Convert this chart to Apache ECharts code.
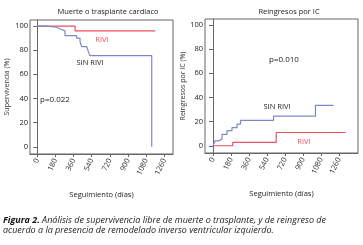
<!DOCTYPE html>
<html>
<head>
<meta charset="utf-8">
<script src="https://cdn.jsdelivr.net/npm/echarts@6/dist/echarts.min.js"></script>
<style>
  html, body { margin: 0; padding: 0; background: #fff; }
  #chart { width: 363px; height: 245px; }
</style>
</head>
<body>
<div id="chart"></div>
<script>
// tick values shared by both panels
var xTicks = [0, 180, 360, 540, 720, 900, 1080, 1260];
var yTicks = [0, 20, 40, 60, 80, 100];

// Panel 1: Muerte o trasplante cardiaco (survival, %)
var survRivi = [[0, 100], [375, 96], [1170, 96]];
var survSinRivi = [[0, 100], [90, 99], [190, 97.5], [230, 96], [275, 92], [390, 90],
  [424, 87], [440, 83], [490, 82], [506, 79], [522, 75.5], [1135, 0]];

// Panel 2: Reingresos por IC (cumulative, %)
var readmRivi = [[0, 0], [197, 2.8], [632, 11], [1328, 11]];
var readmSinRivi = [[0, 0], [20, 4], [55, 5.5], [90, 9.5], [140, 12.5], [190, 15],
  [240, 18], [275, 21], [605, 24.5], [1025, 33.5], [1205, 33.5]];

var FONT = 'Open Sans';
var BLUE = '#7f87c9';
var RED = '#e8535b';

var chart = echarts.init(document.getElementById('chart'));

function xAx(idx, min, max) {
  return {
    type: 'value', gridIndex: idx, min: min, max: max,
    name: 'Seguimiento (días)', nameLocation: 'middle', nameGap: 37,
    nameTextStyle: { fontFamily: FONT, fontSize: 7.5, color: '#222' },
    splitLine: { show: false },
    axisLine: { onZero: false, lineStyle: { color: '#666' } },
    axisTick: { length: 3, customValues: xTicks, lineStyle: { color: '#666' } },
    axisLabel: {
      customValues: xTicks, rotate: 65, margin: 5, fontFamily: FONT, fontSize: 7.5, color: '#333',
      formatter: function (v) { return String(v); }
    }
  };
}
function yAx(idx, name, gap) {
  return {
    type: 'value', gridIndex: idx, min: -6, max: 105,
    name: name, nameLocation: 'middle', nameGap: gap,
    nameTextStyle: { fontFamily: FONT, fontSize: 7, color: '#333' },
    splitLine: { show: false },
    axisLine: { lineStyle: { color: '#666' } },
    axisTick: { length: 4, customValues: yTicks, lineStyle: { color: '#666' } },
    axisLabel: { customValues: yTicks, margin: 2, fontFamily: FONT, fontSize: 7.5, color: '#222' }
  };
}
function line(idx, data, color) {
  return {
    type: 'line', xAxisIndex: idx, yAxisIndex: idx, data: data, step: 'end',
    symbol: 'none', lineStyle: { color: color, width: 1.2 }, animation: false
  };
}
function txt(x, y, s, color, size) {
  return {
    type: 'text', x: x, y: y,
    style: { text: s, fill: color || '#222', fontFamily: FONT, fontSize: size || 7.5, align: 'center', verticalAlign: 'middle' }
  };
}

var option = {
  animation: false,
  title: [
    { text: 'Muerte o trasplante cardiaco', left: 103, top: 3, textAlign: 'center',
      textStyle: { fontFamily: FONT, fontSize: 7.5, fontWeight: 'normal', color: '#222' } },
    { text: 'Reingresos por IC', left: 284, top: 3, textAlign: 'center',
      textStyle: { fontFamily: FONT, fontSize: 7.5, fontWeight: 'normal', color: '#222' } }
  ],
  grid: [
    { left: 30, top: 20, width: 143, height: 134, show: true, borderColor: '#666', borderWidth: 1 },
    { left: 205, top: 19, width: 153, height: 134, show: true, borderColor: '#666', borderWidth: 1 }
  ],
  xAxis: [xAx(0, -72, 1346), xAx(1, -80, 1450)],
  yAxis: [yAx(0, 'Supervivencia (%)', 20), yAx(1, 'Reingresos por IC (%)', 17)],
  series: [
    line(0, survRivi, RED),
    line(0, survSinRivi, BLUE),
    line(1, readmRivi, RED),
    line(1, readmSinRivi, BLUE)
  ],
  graphic: [
    txt(102, 40, 'RIVI', RED),
    txt(90, 63, 'SIN RIVI'),
    txt(55, 100, 'p=0.022', null, 8),
    txt(284, 60, 'p=0.010', null, 8),
    txt(277, 107, 'SIN RIVI'),
    txt(304, 142, 'RIVI', RED),
    {
      type: 'text', x: 3, y: 215,
      style: {
        text: '{b|Figura 2.}{i| Análisis de supervivencia libre de muerte o trasplante, y de reingreso de}\n{i|acuerdo a la presencia de remodelado inverso ventricular izquierdo.}',
        fontFamily: FONT, fontSize: 9, fontStyle: 'italic', fill: '#222', lineHeight: 10.5,
        rich: {
          b: { fontWeight: 'bold', fontStyle: 'italic', fontFamily: FONT, fontSize: 9, fill: '#111', lineHeight: 10.5 },
          i: { fontStyle: 'italic', fontFamily: FONT, fontSize: 9, fill: '#222', lineHeight: 10.5 }
        }
      }
    }
  ]
};
chart.setOption(option);
</script>
</body>
</html>
